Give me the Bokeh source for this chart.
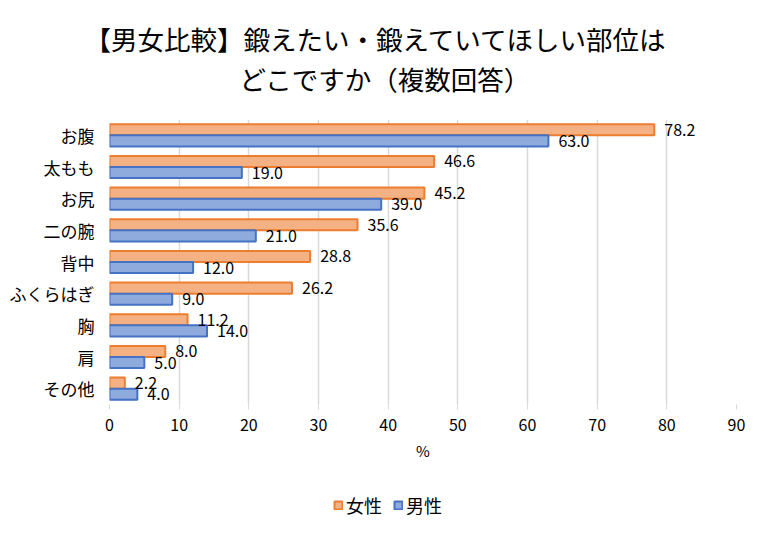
from bokeh.plotting import figure
from bokeh.layouts import column
from bokeh.models import ColumnDataSource, FixedTicker, Legend, LegendItem, Title
from bokeh.core.properties import value
from bokeh.embed import file_html
from bokeh.resources import INLINE

categories = ["お腹", "太もも", "お尻", "二の腕", "背中", "ふくらはぎ", "胸", "肩", "その他"]
female = [78.2, 46.6, 45.2, 35.6, 28.8, 26.2, 11.2, 8.0, 2.2]
male = [63.0, 19.0, 39.0, 21.0, 12.0, 9.0, 14.0, 5.0, 4.0]
x_ticks = [0, 10, 20, 30, 40, 50, 60, 70, 80, 90]
title_lines = ["【男女比較】鍛えたい・鍛えていてほしい部位は", "どこですか（複数回答）"]
series_names = ["女性", "男性"]

JP = "Noto Sans CJK JP"
F_FILL, F_LINE = "#F4B183", "#ED7D31"
M_FILL, M_LINE = "#8FAADC", "#4472C4"
n = len(categories)
pos = [n - 1 - i for i in range(n)]
off = 0.175
bh = 0.35

src_f = ColumnDataSource(dict(y=[p + off for p in pos], v=female,
                              t=["%.1f" % v for v in female]))
src_m = ColumnDataSource(dict(y=[p - off for p in pos], v=male,
                              t=["%.1f" % v for v in male]))

W = 751
p = figure(width=W, height=490, output_backend="svg", toolbar_location=None,
           x_range=(0, 90), y_range=(-0.5, n - 0.5),
           min_border_left=109, min_border_right=15, min_border_top=119,
           min_border_bottom=86)
p.outline_line_color = None
p.background_fill_color = "white"
p.border_fill_color = "white"

p.hbar(y="y", right="v", left=0, height=bh, source=src_f,
       fill_color=F_FILL, line_color=F_LINE, line_width=2)
p.hbar(y="y", right="v", left=0, height=bh, source=src_m,
       fill_color=M_FILL, line_color=M_LINE, line_width=2)

for s in (src_f, src_m):
    p.text(x="v", y="y", text="t", source=s, x_offset=10,
           text_baseline="middle", text_align="left",
           text_font=value(JP), text_font_size="16px", text_color="#000000")

# axes
p.xaxis.ticker = FixedTicker(ticks=x_ticks)
p.xaxis.axis_line_color = None
p.xaxis.major_tick_line_color = "#D9D9D9"
p.xaxis.major_tick_in = 0
p.xaxis.major_tick_out = 5
p.xaxis.minor_tick_line_color = None
p.xaxis.major_label_text_font = JP
p.xaxis.major_label_text_font_size = "16px"
p.xaxis.major_label_text_color = "#000000"
p.xaxis.major_label_standoff = 9
p.xaxis.axis_label = "%"
p.xaxis.axis_label_text_font = JP
p.xaxis.axis_label_text_font_size = "15px"
p.xaxis.axis_label_text_font_style = "normal"
p.xaxis.axis_label_text_color = "#000000"
p.xaxis.axis_label_standoff = 6

p.yaxis.ticker = FixedTicker(ticks=pos)
p.yaxis.major_label_overrides = {pos[i]: categories[i] for i in range(n)}
p.yaxis.axis_line_color = None
p.yaxis.major_tick_line_color = None
p.yaxis.minor_tick_line_color = None
p.yaxis.major_label_text_font = JP
p.yaxis.major_label_text_font_size = "17px"
p.yaxis.major_label_text_color = "#000000"
p.yaxis.major_label_standoff = 9

p.xgrid.grid_line_color = "#D9D9D9"
p.xgrid.grid_line_width = 1.5
p.ygrid.grid_line_color = None

# title: p.title is outermost, added Title is nearest to the plot
p.title.text = title_lines[0]
p.title.align = "left"
p.title.offset = -25
p.title.text_font = JP
p.title.text_font_size = "26.5px"
p.title.text_font_style = "normal"
p.title.text_color = "#000000"
p.title.standoff = -47
p.add_layout(Title(text=title_lines[1], align="left", offset=130, text_font=JP,
                   text_font_size="26.5px", text_font_style="normal",
                   text_color="#000000", standoff=44), "above")

# legend in a small strip below the chart
lg = figure(width=W, height=28, output_backend="svg", toolbar_location=None,
            x_axis_location=None, y_axis_location=None, min_border=0,
            x_range=(0, 1), y_range=(0, 1))
lg.outline_line_color = None
lg.xgrid.grid_line_color = None
lg.ygrid.grid_line_color = None
hidden = dict(y=[5], v=[5])  # swatch-only renderers (not drawn themselves)
lf = lg.hbar(y="y", right="v", left=4, height=0.1, source=ColumnDataSource(hidden),
             fill_color=F_FILL, line_color=F_LINE, line_width=2, visible=False)
lm = lg.hbar(y="y", right="v", left=4, height=0.1, source=ColumnDataSource(hidden),
             fill_color=M_FILL, line_color=M_LINE, line_width=2, visible=False)
legend = Legend(items=[LegendItem(label=series_names[0], renderers=[lf]),
                       LegendItem(label=series_names[1], renderers=[lm])],
                orientation="horizontal", location=(224, 0),
                glyph_width=10, glyph_height=10, label_standoff=3, spacing=11,
                padding=0, margin=0, border_line_color=None,
                background_fill_alpha=0, click_policy="none",
                label_text_font=JP, label_text_font_size="18px",
                label_text_color="#000000")
lg.add_layout(legend, "center")

layout = column(p, lg, spacing=0)
open("out.html", "w").write(file_html(layout, INLINE))
